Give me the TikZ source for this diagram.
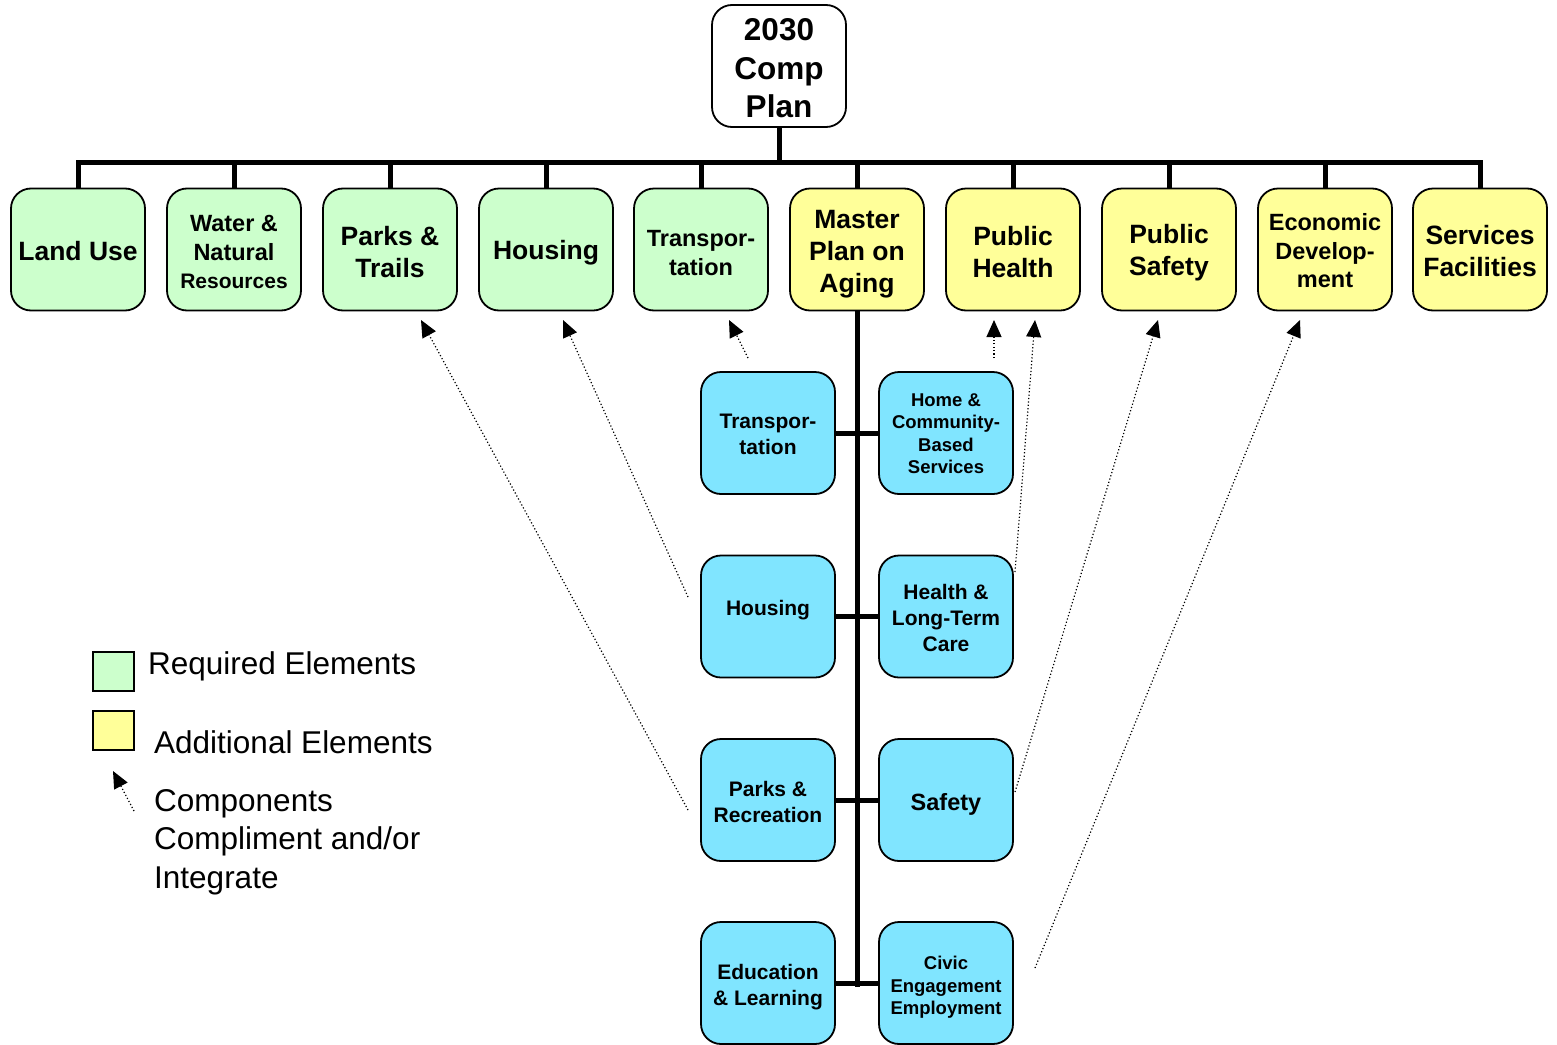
\documentclass[tikz,border=0pt]{standalone}
\usepackage{fontspec}
\setmainfont{Liberation Sans}
\usetikzlibrary{arrows.meta}
\definecolor{reqg}{RGB}{204,255,204}
\definecolor{addy}{RGB}{255,255,153}
\definecolor{subc}{RGB}{128,229,255}
\begin{document}
\begin{tikzpicture}[x=1pt,y=-1pt,
  box/.style={draw=black, line width=1.8pt, rounded corners=20pt,
    minimum width=134pt, minimum height=122pt, inner sep=0pt},
  req/.style={box, fill=reqg},
  add/.style={box, fill=addy},
  sub/.style={box, fill=subc},
  every label/.style={align=center, inner sep=0pt, text=black},
  froot/.style={font=\bfseries\fontsize{31.5}{38.5}\selectfont},
  fbig/.style={font=\bfseries\fontsize{26.5}{32}\selectfont},
  fmid/.style={font=\bfseries\fontsize{23.5}{28.5}\selectfont},
  fsub/.style={font=\bfseries\fontsize{21}{26}\selectfont},
  fsml/.style={font=\bfseries\fontsize{18.5}{22.5}\selectfont},
  conn/.style={line width=5pt},
  link/.style={line width=1.2pt, dash pattern=on 1.2pt off 2.2pt,
    -{Triangle[length=17pt,width=15pt]}},
  legtxt/.style={anchor=base west, inner sep=0pt, font=\fontsize{31.5}{38.5}\selectfont},
  legbox/.style={draw=black, line width=1.8pt, minimum width=41pt, minimum height=39pt, inner sep=0pt}
]
\useasboundingbox (0,0) rectangle (1557,1044);
\clip (0,0) rectangle (1557,1044);

% root
\node[box, fill=white, label={[froot,yshift=-2.5pt]center:{2030\\Comp\\Plan}}] (root) at (779,66) {};

% top row
\node[req, label={[fbig,yshift=-2pt]center:{Land Use}}] (t1) at (78,249.5) {};
\node[req, label={[fmid,yshift=-2.5pt]center:{Water \&\\Natural\\{\fontsize{21}{27}\selectfont Resources}}}] (t2) at (234,249.5) {};
\node[req, label={[fbig,yshift=-3pt]center:{Parks \&\\Trails}}] (t3) at (390,249.5) {};
\node[req, label={[fbig,yshift=-3.5pt]center:{Housing}}] (t4) at (546,249.5) {};
\node[req, label={[fmid,yshift=-3.5pt]center:{Transpor-\\tation}}] (t5) at (701,249.5) {};
\node[add, label={[fbig,yshift=-5pt]center:{Master\\Plan on\\Aging}}] (t6) at (857,249.5) {};
\node[add, label={[fbig,yshift=-3pt]center:{Public\\Health}}] (t7) at (1013,249.5) {};
\node[add, label={[fbig,yshift=-3.5pt]center:{Public\\Safety}}] (t8) at (1169,249.5) {};
\node[add, label={[fmid,yshift=-1.5pt]center:{Economic\\Develop-\\ment}}] (t9) at (1325,249.5) {};
\node[add, label={[fbig,yshift=-2pt]center:{Services\\Facilities}}] (t10) at (1480,249.5) {};

% sub boxes
\node[sub, label={[fsub,yshift=-1pt]center:{Transpor-\\tation}}] (l1) at (768,433) {};
\node[sub, label={[fsml,yshift=-0.5pt]center:{Home \&\\Community-\\Based\\Services}}] (r1) at (946,433) {};
\node[sub, label={[fsub,yshift=6pt]center:{Housing}}] (l2) at (768,616.5) {};
\node[sub, label={[fsub,yshift=-1.5pt]center:{Health \&\\Long-Term\\Care}}] (r2) at (946,616.5) {};
\node[sub, label={[fsub,yshift=-2pt]center:{Parks \&\\Recreation}}] (l3) at (768,800) {};
\node[sub, label={[font=\bfseries\fontsize{23.5}{28}\selectfont,yshift=-4pt]center:{Safety}}] (r3) at (946,800) {};
\node[sub, label={[fsub,yshift=-4pt]center:{Education\\\& Learning}}] (l4) at (768,983) {};
\node[sub, label={[fsml,yshift=-4.5pt]center:{Civic\\Engagement\\Employment}}] (r4) at (946,983) {};

% tree connectors
\draw[conn] (root.south) -- ++(0,36);
\draw[conn] (t1.north) -- ++(0,-25) -| (t10.north);
\foreach \i in {2,...,9} { \draw[conn] (t\i.north) -- ++(0,-25); }
\draw[conn] (t6.south) -- (857,986.5);
\foreach \i in {1,...,4} { \draw[conn] (l\i.east) -- (r\i.west); }

% dotted links
\coordinate (a1) at (688,810);  \coordinate (e1) at (421,320);
\coordinate (a2) at (688,597);  \coordinate (e2) at (563,320);
\coordinate (a3) at (748,358);  \coordinate (e3) at (729,320);
\coordinate (a4) at (994,358);  \coordinate (e4) at (994,320);
\coordinate (a5) at (1015,572); \coordinate (e5) at (1035,320);
\coordinate (a6) at (1015,792); \coordinate (e6) at (1158,320);
\coordinate (a7) at (1035,968); \coordinate (e7) at (1300,320);
\foreach \i in {1,...,7} { \draw[link] (a\i) -- (e\i); }

% legend
\node[legbox, fill=reqg] (lg1) at (113.5,671.5) {};
\node[legbox, fill=addy] (lg2) at (113.5,730.5) {};
\node[legtxt] (lt1) at (148,674) {Required Elements};
\node[legtxt] (lt2) at (154,753) {Additional Elements};
\coordinate (la) at (134,811); \coordinate (lb) at (113,771);
\draw[link] (la) -- (lb);
\node[legtxt] (lt3) at (154,811) {Components};
\node[legtxt] (lt4) at (154,849.5) {Compliment and/or};
\node[legtxt] (lt5) at (154,888) {Integrate};
\end{tikzpicture}
\end{document}
